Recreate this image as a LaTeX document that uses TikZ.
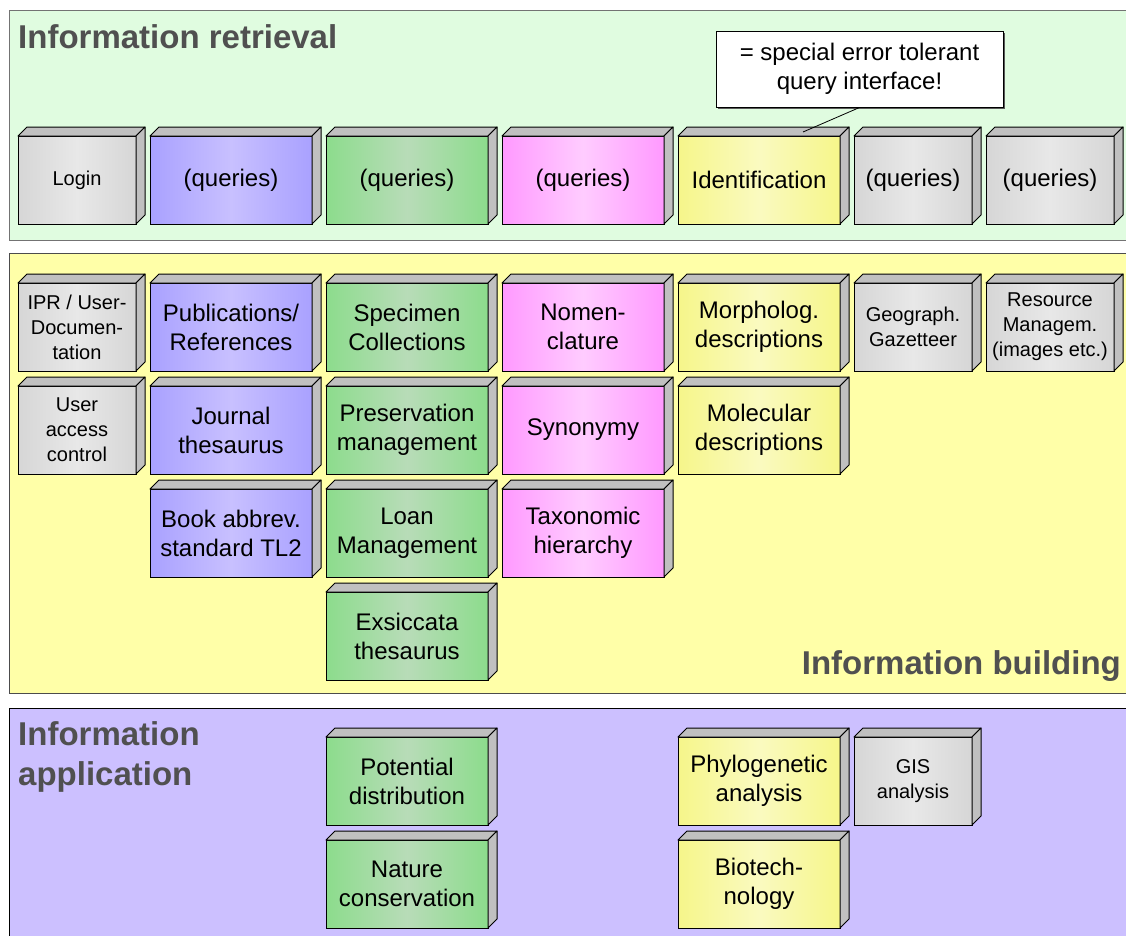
\documentclass[tikz,border=0pt]{standalone}
\usepackage{fontspec}
\setmainfont{Liberation Sans}
\usetikzlibrary{shadows}

% front-face colours (edge / centre of the horizontal gradient)
\definecolor{pEdge}{HTML}{A9A1FF}\definecolor{pMid}{HTML}{C8C0FF}
\definecolor{gEdge}{HTML}{8CDC8C}\definecolor{gMid}{HTML}{B8DCB8}
\definecolor{kEdge}{HTML}{FF99FF}\definecolor{kMid}{HTML}{FFCCFF}
\definecolor{yEdge}{HTML}{F6F68A}\definecolor{yMid}{HTML}{FAFAC0}
\definecolor{sEdge}{HTML}{D6D6D6}\definecolor{sMid}{HTML}{E8E8E8}
\definecolor{sideGray}{HTML}{C0C0C0}
% panel colours
\definecolor{retrBg}{HTML}{E0FCE0}
\definecolor{buildBg}{HTML}{FFFFA8}
\definecolor{applBg}{HTML}{CCC0FF}
\definecolor{headGray}{HTML}{505050}

% a box with a front face (named node) and grey top and side faces
\newcommand\cubebox[6]{%
  \node[front,minimum width=#4pt,#5] (#1) at (#2,#3) {#6};
  \draw[face] (#1.north west) -- ++(9,-9) -- ([shift={(9,-9)}]#1.north east)
    -- (#1.north east) -- cycle;
  \draw[face] (#1.north east) -- ++(9,-9) -- ([shift={(9,-9)}]#1.south east)
    -- (#1.south east) -- cycle;
}

\begin{document}
\begin{tikzpicture}[x=1pt,y=-1pt,
  panel/.style={line width=1pt},
  face/.style={draw=black,line width=1pt,fill=sideGray,line join=round},
  front/.style={draw=black,line width=1pt,outer sep=0pt,inner sep=2pt,
    minimum height=88pt,anchor=north west,align=center,text=black},
  big/.style={font=\fontsize{24}{29}\selectfont},
  small/.style={font=\fontsize{20}{25}\selectfont},
  purple/.style={left color=pEdge,right color=pEdge,middle color=pMid},
  green/.style={left color=gEdge,right color=gEdge,middle color=gMid},
  pink/.style={left color=kEdge,right color=kEdge,middle color=kMid},
  yellow/.style={left color=yEdge,right color=yEdge,middle color=yMid},
  grey/.style={left color=sEdge,right color=sEdge,middle color=sMid},
  header/.style={text=headGray,inner sep=0pt,
    font=\fontsize{33}{40}\selectfont\bfseries},
  note/.style={draw=black,line width=1pt,fill=white,inner sep=2pt,
    minimum width=287pt,minimum height=76pt,align=center,
    font=\fontsize{24}{29}\selectfont,
    drop shadow={shadow xshift=2pt,shadow yshift=-2pt,fill=black!65,opacity=1}},
]
\clip (0,0) rectangle (1126,935);
\fill[white] (0,0) rectangle (1126,935);

% panels
\draw[panel,draw=black!55,fill=retrBg] (9,10) rectangle (1140,240);
\draw[panel,draw=black!70,fill=buildBg] (9,253) rectangle (1140,693);
\draw[panel,draw=black,fill=applBg] (9,708) rectangle (1140,960);

% panel headings
\node[header,anchor=base west] (hRetr) at (18,48) {Information retrieval};
\node[header,anchor=base east] (hBuild) at (1121,674) {Information building};
\node[header,anchor=base west] (hAppl1) at (18,745) {Information};
\node[header,anchor=base west] (hAppl2) at (18,785) {application};

% retrieval row
\cubebox{login}{18}{136}{118}{grey,small}{Login}
\cubebox{qPub}{150}{136}{162}{purple,big}{(queries)}
\cubebox{qSpec}{326}{136}{162}{green,big}{(queries)}
\cubebox{qNom}{502}{136}{162}{pink,big}{(queries)}
\cubebox{ident}{678}{136}{162}{yellow,big}{Identification}
\cubebox{qGeo}{854}{136}{118}{grey,big}{(queries)}
\cubebox{qRes}{986}{136}{128}{grey,big}{(queries)}

% building rows
\cubebox{ipr}{18}{283}{118}{grey,small}{IPR / User-\\Documen-\\tation}
\cubebox{pub}{150}{283}{162}{purple,big}{Publications/\\References}
\cubebox{spec}{326}{283}{162}{green,big}{Specimen\\Collections}
\cubebox{nom}{502}{283}{162}{pink,big}{Nomen-\\clature}
\cubebox{morph}{678}{283}{162}{yellow,big}{Morpholog.\\descriptions}
\cubebox{geo}{854}{283}{118}{grey,small}{Geograph.\\Gazetteer}
\cubebox{res}{986}{283}{128}{grey,small}{Resource\\Managem.\\(images etc.)}

\cubebox{uac}{18}{386}{118}{grey,small}{User\\access\\control}
\cubebox{jour}{150}{386}{162}{purple,big}{Journal\\thesaurus}
\cubebox{pres}{326}{386}{162}{green,big}{Preservation\\management}
\cubebox{syn}{502}{386}{162}{pink,big}{Synonymy}
\cubebox{mol}{678}{386}{162}{yellow,big}{Molecular\\descriptions}

\cubebox{book}{150}{489}{162}{purple,big}{Book abbrev.\\standard TL2}
\cubebox{loan}{326}{489}{162}{green,big}{Loan\\Management}
\cubebox{tax}{502}{489}{162}{pink,big}{Taxonomic\\hierarchy}

\cubebox{exs}{326}{592}{162}{green,big}{Exsiccata\\thesaurus}

% application rows
\cubebox{pot}{326}{737}{162}{green,big}{Potential\\distribution}
\cubebox{phy}{678}{737}{162}{yellow,big}{Phylogenetic\\analysis}
\cubebox{gis}{854}{737}{118}{grey,small}{GIS\\analysis}
\cubebox{nat}{326}{840}{162}{green,big}{Nature\\conservation}
\cubebox{bio}{678}{840}{162}{yellow,big}{Biotech-\\nology}

% note on the identification box
\node[note] (remark) at (859.5,69) {= special error tolerant\\query interface!};
\coordinate (identTop) at (803,132);
\draw[line width=0.8pt] (remark.south) -- (identTop);
\end{tikzpicture}
\end{document}
